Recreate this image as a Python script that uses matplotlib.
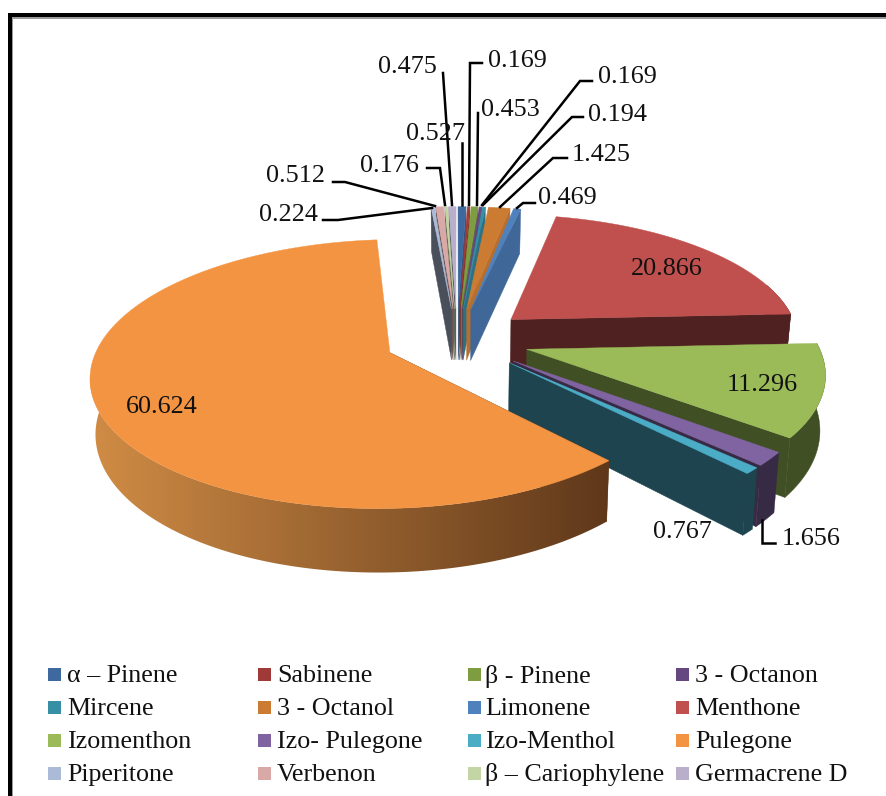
import numpy as np
import matplotlib
matplotlib.use('Agg')
import matplotlib.pyplot as plt
from matplotlib.patches import Polygon, Rectangle
from matplotlib.colors import to_rgb

plt.rcParams['font.family'] = ['Liberation Serif', 'DejaVu Serif']

# composition in % , clockwise from 12 o'clock
names = ['α – Pinene', 'Sabinene', 'β - Pinene', '3 - Octanon',
         'Mircene', '3 - Octanol', 'Limonene', 'Menthone',
         'Izomenthon', 'Izo- Pulegone', 'Izo-Menthol', 'Pulegone',
         'Piperitone', 'Verbenon', 'β – Cariophylene', 'Germacrene D']
values = [0.527, 0.169, 0.453, 0.169, 0.194, 1.425, 0.469, 20.866,
          11.296, 1.656, 0.767, 60.624, 0.224, 0.512, 0.176, 0.475]
colors = ['#3D699E', '#A03A38', '#7E9C40', '#65487F', '#378FA5', '#CC7B32',
          '#4F81BD', '#C0504D', '#9BBB59', '#8064A2', '#4BACC6', '#F39443',
          '#AABAD7', '#D9A9A8', '#C3D5A4', '#B9AFCB']
# how dark the side of each slice is
side_shade = [0.8, 0.8, 0.8, 0.8, 0.8, 0.9, 0.8, 0.41,
              0.42, 0.42, 0.4, 0.4, 0.43, 0.5, 0.5, 0.5]

# label text position for each slice, same order as values
label_x = [436, 517, 510, 627, 617, 601, 567, 667, 762, 811, 682, 162, 288, 296, 389, 407]
label_y = [134, 61, 110, 77, 115, 155, 198, 269, 385, 539, 532, 407, 215, 176, 166, 67]
# leader lines, None where the label sits on or next to the slice
leaders = [[(462, 143), (462, 205)],
           [(482, 63), (470, 63), (469, 205)],
           [(478, 113), (477, 205)],
           [(592, 81), (580, 81), (482, 205)],
           [(583, 117), (572, 117), (483, 205)],
           [(567, 158), (553, 158), (500, 207)],
           [(535, 203), (523, 203), (517, 208)],
           None,
           None,
           [(762, 520), (762, 543), (775, 543)],
           None,
           None,
           [(323, 220), (338, 220), (432, 208)],
           [(333, 182), (345, 182), (435, 206)],
           [(427, 168), (440, 168), (445, 205)],
           [(443, 73), (452, 205)]]

legend_swatch_x = [48, 258, 468, 676]
legend_text_x = [67, 277, 485, 695]
legend_y = [674, 707, 740, 773]

# projection of the tilted pie
cx, cy = 457, 339.5
rx, ry = 289.5, 127
persp = 0.156
explode = 0.25
depth = 53


def project(u, v):
    s = 1 / (1 + persp * v)
    return cx + rx * u * s, cy - ry * v * s, s


def lower(x, y, s):
    return cx + (x - cx) * 0.985, y + depth * s


def shade(col, f):
    return tuple(c * f for c in to_rgb(col))


fig = plt.figure(figsize=(8.87, 7.96), dpi=100)
ax = fig.add_axes([0, 0, 1, 1])
ax.axis('off')

# frame round the chart, black with a grey inner edge
ax.add_patch(Rectangle((8, 13), 879, 4, fc='black', ec='none'))
ax.add_patch(Rectangle((8, 13), 4, 783, fc='black', ec='none'))
ax.add_patch(Rectangle((12, 17), 875, 1.5, fc='#999999', ec='none'))
ax.add_patch(Rectangle((12, 17), 1.5, 779, fc='#999999', ec='none'))

total = sum(values)
angles = np.cumsum([0] + values) / total * 2 * np.pi


def draw_slice(i):
    a0, a1 = angles[i], angles[i + 1]
    mid = (a0 + a1) / 2
    ou, ov = explode * np.sin(mid), explode * np.cos(mid)
    th = np.linspace(a0, a1, max(3, int(np.degrees(a1 - a0) * 2)))
    arc = [project(ou + np.sin(t), ov + np.cos(t)) for t in th]
    apex = project(ou, ov)
    side = shade(colors[i], side_shade[i])

    # cut faces, only the one turned to the front shows
    edge = arc[0] if np.sin(mid) < 0 else arc[-1]
    face = [apex[:2], edge[:2], lower(*edge), lower(*apex)]
    ax.add_patch(Polygon(face, fc=side, ec=side, lw=0.3, zorder=1))

    # outer wall on the near side of the pie
    near = [p for t, p in zip(th, arc) if np.cos(t) <= 0.3]
    if len(near) > 1:
        wall = [p[:2] for p in near] + [lower(*p) for p in near[::-1]]
        if i == 11:
            # Pulegone wall fades from left to right
            ramp = np.linspace(0, 1, 256)[None, :, None]
            grad = np.array(to_rgb('#D08C45')) * (1 - ramp) + np.array(to_rgb('#5F381A')) * ramp
            im = ax.imshow(grad, extent=(90, 610, 600, 380), aspect='auto', zorder=1)
            im.set_clip_path(Polygon(wall, transform=ax.transData))
        else:
            ax.add_patch(Polygon(wall, fc=side, ec=side, lw=0.3, zorder=1))

    top = [apex[:2]] + [a[:2] for a in arc]
    ax.add_patch(Polygon(top, fc=colors[i], ec=colors[i], lw=0.3, zorder=1))


# back slices first, the big ones stack from the back to the front
for i in [15, 14, 13, 12, 0, 1, 2, 3, 4, 5, 6, 7, 8, 9, 10, 11]:
    draw_slice(i)

for line in leaders:
    if line is not None:
        xs, ys = zip(*line)
        ax.plot(xs, ys, color='black', lw=1.8, solid_joinstyle='miter', zorder=4)

for v, x, y in zip(values, label_x, label_y):
    ax.text(x, y, '%.3f' % v, fontsize=18.8, ha='center', va='center', color='#111111', zorder=5)

# legend, four columns by four rows
for k, name in enumerate(names):
    row, col = k // 4, k % 4
    ax.add_patch(Rectangle((legend_swatch_x[col], legend_y[row] - 6.5), 13, 13, fc=colors[k], ec='none'))
    ax.text(legend_text_x[col], legend_y[row] + 2, name, fontsize=18.7, ha='left', va='center', color='#111111')

ax.set_xlim(0, 887)
ax.set_ylim(796, 0)
fig.savefig('out.png', dpi=100)
